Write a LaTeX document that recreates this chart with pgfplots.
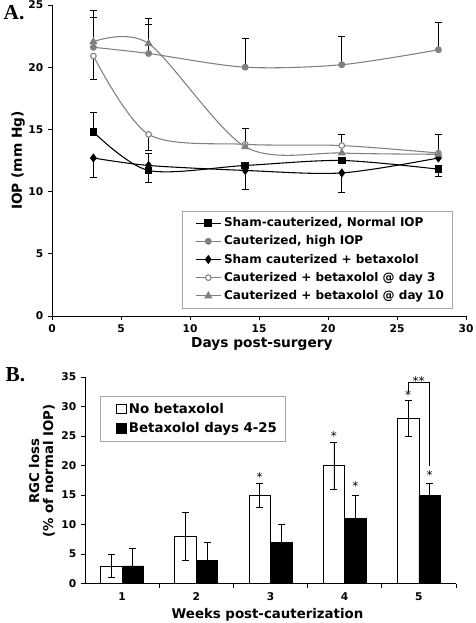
\documentclass[border=0pt]{standalone}
\usepackage{pgfplots}
\pgfplotsset{compat=1.18}
\usepackage{fontspec}
\setmainfont{DejaVu Sans}
\newfontfamily\timesfont{Liberation Serif}
\definecolor{sgray}{RGB}{128,128,128}
\pgfplotsset{
  lineleg/.style={legend image code/.code={
    \path (-6pt,0pt);
    \draw[mark repeat=2, mark phase=2, ##1] plot coordinates {(0pt,0pt) (9.4pt,0pt) (18.8pt,0pt)};}},
}
\begin{document}
\begin{tikzpicture}
\path[use as bounding box] (0pt,0pt) rectangle (356.25pt,467.25pt);
\node[font=\timesfont\bfseries\fontsize{16}{16}\selectfont] at (10.5pt,457.5pt) {A.};
\node[font=\timesfont\bfseries\fontsize{16}{16}\selectfont] at (11.5pt,186pt) {B.};
% ---------------- Panel A ----------------
\begin{axis}[
  at={(39pt,230.25pt)}, anchor=south west, scale only axis,
  width=310.5pt, height=233.25pt,
  xmin=0, xmax=30, ymin=0, ymax=25,
  xtick={0,5,...,30}, ytick={0,5,...,25},
  axis lines=left, axis line style={-, line width=0.6pt},
  tick align=outside, major tick length=3pt,
  tick style={black, line width=0.6pt},
  ticklabel style={font=\bfseries\fontsize{8}{9}\selectfont},
  /pgf/number format/assume math mode=true,
  xlabel={Days post-surgery}, ylabel={IOP (mm Hg)},
  every axis x label/.style={at={(axis description cs:0.507,-0.09)}, anchor=center, font=\bfseries\fontsize{10.3}{12}\selectfont},
  every axis y label/.style={at={(axis description cs:-0.082,0.5)}, anchor=center, rotate=90, font=\bfseries\fontsize{10.3}{12}\selectfont},
  legend style={at={(axis description cs:0.313,0.339)}, anchor=north west,
    draw=gray!70, line width=0.5pt, font=\bfseries\fontsize{9}{10}\selectfont,
    row sep=1.3pt, inner xsep=4pt, inner ysep=3pt},
  legend cell align=left,
  clip=false,
]
\addplot[black, line width=0.8pt, smooth, mark=square*, mark size=2.5pt, mark options={solid, fill=black}, lineleg]
  coordinates {(3,14.8)(7,11.7)(14,12.1)(21,12.5)(28,11.8)};
\addlegendentry{Sham-cauterized, Normal IOP}
\addplot[sgray, line width=0.8pt, smooth, mark=*, mark size=2.2pt, mark options={solid, fill=sgray}, lineleg]
  coordinates {(3,21.6)(7,21.1)(14,20.0)(21,20.2)(28,21.4)};
\addlegendentry{Cauterized, high IOP}
\addplot[black, line width=0.8pt, smooth, mark=diamond*, mark size=2.8pt, mark options={solid, fill=black}, lineleg]
  coordinates {(3,12.7)(7,12.1)(14,11.7)(21,11.5)(28,12.7)};
\addlegendentry{Sham cauterized + betaxolol}
\addplot[sgray, line width=0.8pt, smooth, mark=*, mark size=2.1pt, mark options={solid, fill=white}, lineleg]
  coordinates {(3,20.9)(7,14.6)(14,13.8)(21,13.7)(28,13.1)};
\addlegendentry{Cauterized + betaxolol @ day 3}
\addplot[sgray, line width=0.8pt, smooth, mark=triangle*, mark size=2.8pt, mark options={solid, fill=sgray}, lineleg]
  coordinates {(3,22.05)(7,21.9)(14,13.6)(21,13.1)(28,13.0)};
\addlegendentry{Cauterized + betaxolol @ day 10\hspace{6pt}}
% error bars (upward)
\addplot[forget plot, draw=none, mark=none,
  error bars/.cd, y dir=plus, y explicit,
  error bar style={black, line width=0.6pt},
  error mark options={black, rotate=90, mark size=2.6pt, line width=0.6pt}]
  table[x=x, y=y, y error=e] {
x y e
3 22.05 2.55
3 21.6 2.4
3 14.8 1.6
7 21.9 2.0
7 21.1 2.3
7 12.1 1.0
14 20.0 2.3
14 13.6 1.5
21 20.2 2.3
21 13.7 0.9
28 21.4 2.2
28 13.0 1.6
};
% error bars (downward)
\addplot[forget plot, draw=none, mark=none,
  error bars/.cd, y dir=minus, y explicit,
  error bar style={black, line width=0.6pt},
  error mark options={black, rotate=90, mark size=2.6pt, line width=0.6pt}]
  table[x=x, y=y, y error=e] {
x y e
3 20.9 1.9
3 12.7 1.55
7 14.6 1.3
7 11.7 1.0
14 11.7 1.55
21 11.5 1.55
28 11.8 0.6
};
\end{axis}
% ---------------- Panel B ----------------
\begin{axis}[
  at={(63.75pt,29.5pt)}, anchor=south west, scale only axis,
  width=278.25pt, height=155pt,
  xmin=0.5, xmax=5.5, ymin=0, ymax=35,
  xtick={1,2,3,4,5}, minor xtick={1.5,2.5,3.5,4.5,5.5},
  ytick={0,5,...,35},
  axis lines=left, axis line style={-, line width=0.6pt},
  tick align=outside, major tick length=3pt, minor tick length=3pt,
  tick style={black, line width=0.6pt},
  major x tick style={draw=none},
  ticklabel style={font=\bfseries\fontsize{8}{9}\selectfont},
  /pgf/number format/assume math mode=true,
  ybar=0pt, bar width=0.29,
  xlabel={Weeks post-cauterization}, ylabel={RGC loss\\(\% of normal IOP)},
  every axis x label/.style={at={(axis description cs:0.492,-0.152)}, anchor=center, font=\bfseries\fontsize{10}{12}\selectfont},
  every axis y label/.style={at={(axis description cs:-0.116,0.545)}, anchor=center, rotate=90, align=center, font=\bfseries\fontsize{10}{10.5}\selectfont},
  legend style={at={(axis description cs:0.04,0.908)}, anchor=north west,
    draw=gray!70, line width=0.5pt, font=\bfseries\fontsize{10}{11}\selectfont,
    row sep=1.3pt, inner xsep=4pt, inner ysep=3pt},
  legend cell align=left,
  clip=false,
]
\addplot[fill=white, draw=black, line width=0.6pt,
  legend image code/.code={\path (-8pt,0pt); \draw[fill=white, draw=black, line width=0.6pt] (0pt,-3.5pt) rectangle (7pt,3.5pt);},
  error bars/.cd, y dir=both, y explicit,
  error bar style={black, line width=0.6pt},
  error mark options={black, rotate=90, mark size=2.6pt, line width=0.6pt}]
  table[x=x, y=y, y error=e] {
x y e
1 3 2
2 8 4
3 15 2
4 20 4
5 28 3
};
\addlegendentry{No betaxolol}
\addplot[fill=black, draw=black, line width=0.6pt,
  legend image code/.code={\path (-8pt,0pt); \draw[fill=black, draw=black, line width=0.6pt] (0pt,-3.5pt) rectangle (7pt,3.5pt);},
  error bars/.cd, y dir=both, y explicit,
  error bar style={black, line width=0.6pt},
  error mark options={black, rotate=90, mark size=2.6pt, line width=0.6pt}]
  table[x=x, y=y, y error=e] {
x y e
1 3 3
2 4 3
3 7 3
4 11 4
5 15 2
};
\addlegendentry{Betaxolol days 4-25\hspace{8pt}}
\node[font=\fontsize{9}{9}\selectfont, anchor=base] at (axis cs:2.855,17.3) {*};
\node[font=\fontsize{9}{9}\selectfont, anchor=base] at (axis cs:3.855,24.3) {*};
\node[font=\fontsize{9}{9}\selectfont, anchor=base] at (axis cs:4.855,31.2) {*};
\node[font=\fontsize{9}{9}\selectfont, anchor=base] at (axis cs:4.145,15.7) {*};
\node[font=\fontsize{9}{9}\selectfont, anchor=base] at (axis cs:5.145,17.7) {*};
\draw[black, line width=0.6pt] (axis cs:4.855,32.4) -- (axis cs:4.855,34.1) -- (axis cs:5.14,34.1) -- (axis cs:5.14,19.9);
\node[font=\fontsize{9}{9}\selectfont, anchor=base] at (axis cs:4.997,33.6) {**};
\end{axis}
\end{tikzpicture}
\end{document}
